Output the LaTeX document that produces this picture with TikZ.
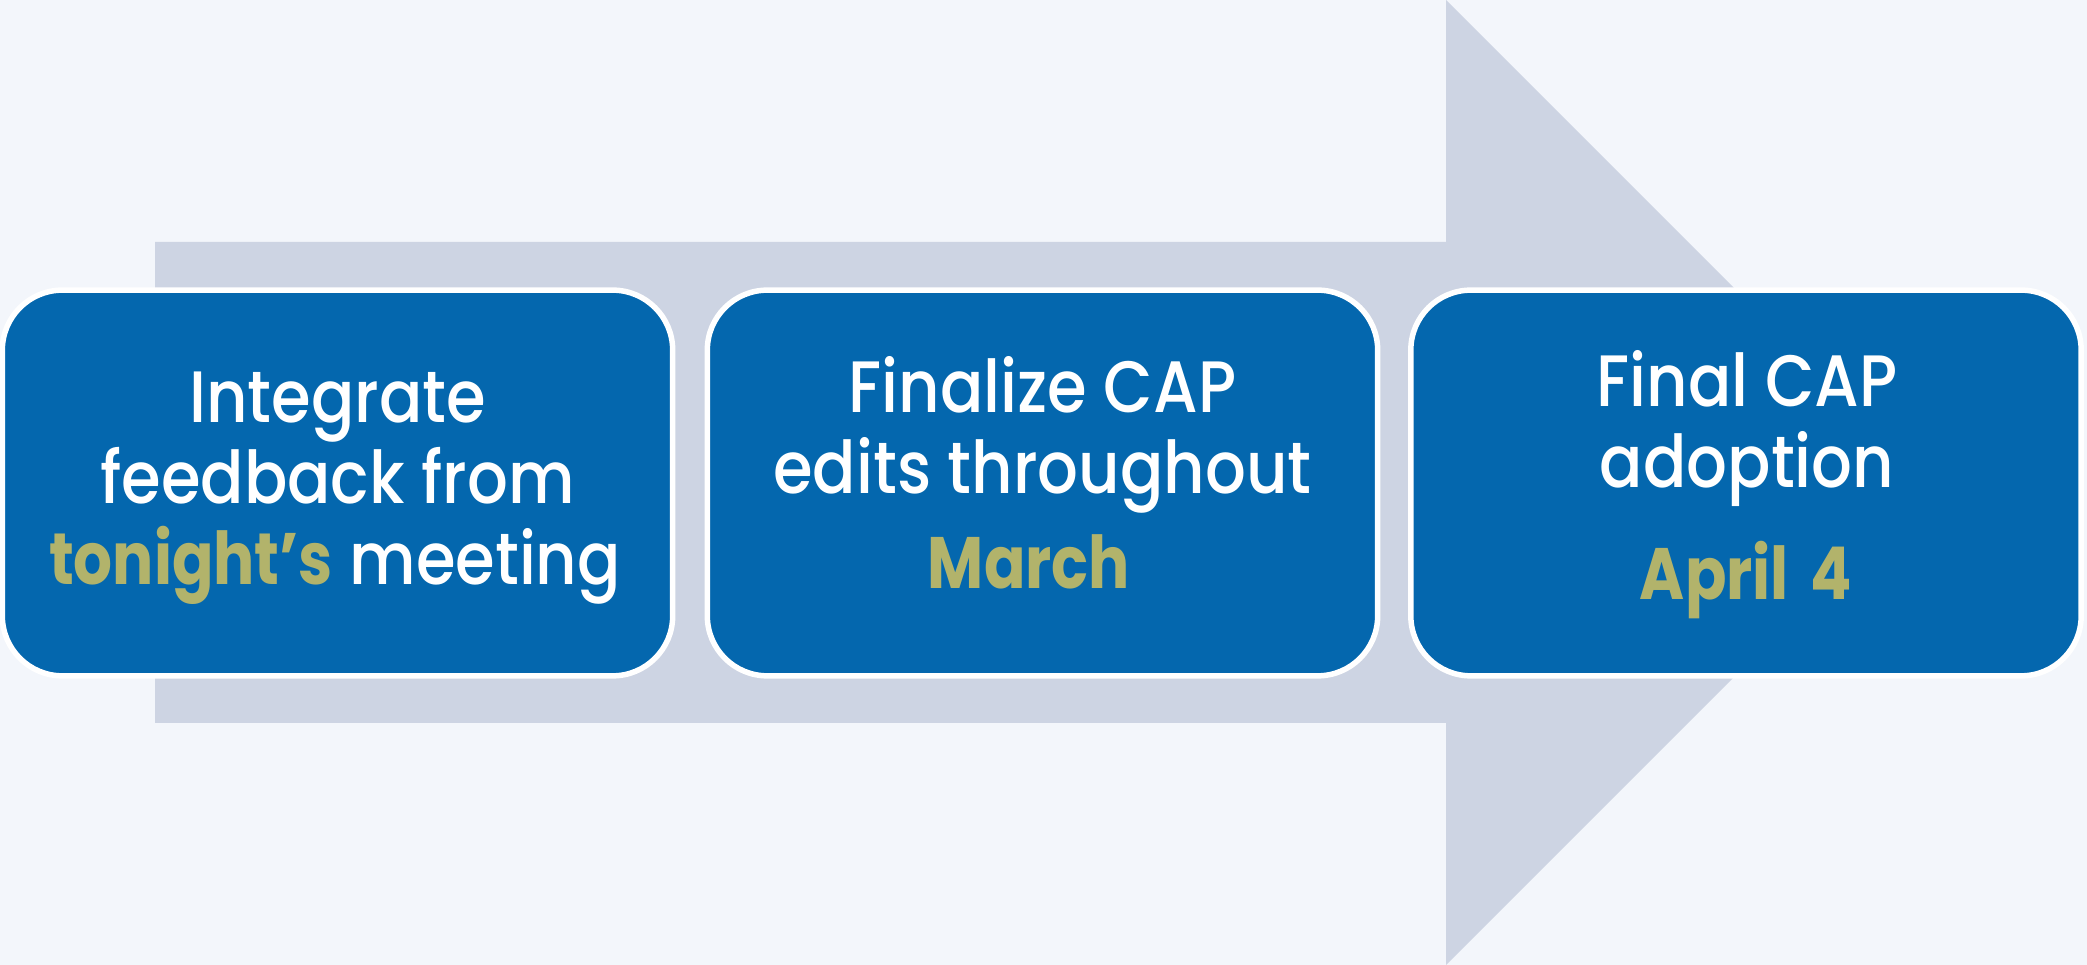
\documentclass[tikz,border=0pt]{standalone}
\usepackage{fontspec}
\IfFontExistsTF{Poppins Medium}
    {\setmainfont{Poppins}[UprightFont=* Medium, BoldFont=* Bold,
        FakeStretch=0.88, BoldFeatures={FakeStretch=0.84}]}
    {\setmainfont{Poppins}[FakeStretch=0.9, BoldFeatures={FakeStretch=0.84}]}
\definecolor{pagebg}{HTML}{F3F6FB}
\definecolor{arrowgray}{HTML}{CDD4E3}
\definecolor{boxblue}{HTML}{0467AE}
\definecolor{datagold}{HTML}{B2B36B}
\begin{document}
\begin{tikzpicture}[
    x=0.01cm, y=-0.01cm,
    stepbox/.style={rectangle, rounded corners=0.6cm, fill=boxblue, draw=white,
        line width=0.055cm, minimum width=6.7cm, minimum height=3.855cm},
    steptext/.style={anchor=base, inner sep=0pt, text=white,
        font=\fontsize{20.7}{23}\selectfont},
    datetext/.style={steptext, text=datagold, font=\fontsize{20.7}{23}\selectfont\bfseries}
]
    % Background and page size
    \fill[pagebg] (0,0) rectangle (2087,965);
    \useasboundingbox (0,0) rectangle (2087,965);

    % Big arrow behind the steps
    \fill[arrowgray] (155,242) -- (1446,242) -- (1446,0) -- (1928.5,482.5)
        -- (1446,965) -- (1446,723) -- (155,723) -- cycle;

    % Step boxes
    \node[stepbox] (integrate) at (337.5,483) {};
    \node[stepbox] (finalize) at (1042.5,483) {};
    \node[stepbox] (adopt) at (1746,483) {};

    % Texts of the first step
    \node[steptext] (integrate1) at (337.5,423) {Integrate};
    \node[steptext] (integrate2) at (337.5,504) {feedback from};
    \node[steptext] (integrate3) at (335,585) {{\color{datagold}\bfseries tonight’s} meeting};

    % Texts of the second step
    \node[steptext] (finalize1) at (1042.5,413) {Finalize CAP};
    \node[steptext] (finalize2) at (1042.5,494) {edits throughout};
    \node[datetext] (finalize3) at (1029,589) {March};

    % Texts of the third step
    \node[steptext] (adopt1) at (1747,407) {Final CAP};
    \node[steptext] (adopt2) at (1747,488) {adoption};
    \node[datetext] (adopt3) at (1746,600) {\addfontfeatures{FakeStretch=1.06}April\hspace{0.3em}4};
\end{tikzpicture}
\end{document}
